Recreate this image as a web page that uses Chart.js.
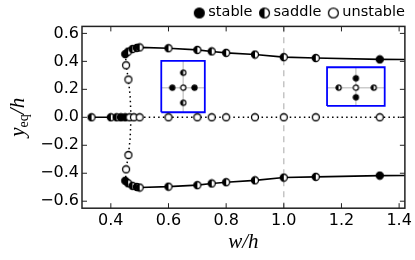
<!DOCTYPE html>
<html>
<head>
<meta charset="utf-8">
<script src="https://cdn.jsdelivr.net/npm/chart.js@4.4.1/dist/chart.umd.min.js"></script>
<style>
  html, body { margin: 0; padding: 0; background: #fff; }
  canvas { display: block; }
</style>
</head>
<body>
<canvas id="eqChart" width="415" height="260"></canvas>
<script>
// ===== 数据 =====
const branchX    = [0.45, 0.46, 0.475, 0.49, 0.50, 0.60, 0.70, 0.75, 0.80, 0.90, 1.00, 1.111, 1.333];
const upperY     = [0.452, 0.470, 0.488, 0.496, 0.500, 0.494, 0.482, 0.471, 0.461, 0.449, 0.430, 0.424, 0.414];
const lowerY     = [-0.454, -0.472, -0.490, -0.498, -0.502, -0.496, -0.485, -0.473, -0.464, -0.451, -0.431, -0.426, -0.417];
const branchKind = ['stable', 'saddle', 'saddle', 'saddle', 'saddle', 'saddle', 'saddle',
                    'saddle', 'saddle', 'saddle', 'saddle', 'saddle', 'stable'];
// branches run on past the last sample to the frame
const tailX      = [1.333, 1.45];
const tailUpperY = [0.414, 0.413];
const tailLowerY = [-0.417, -0.416];

const centerX    = [0.333, 0.40, 0.42, 0.435, 0.45, 0.465, 0.48, 0.50, 0.60, 0.70, 0.75, 0.80, 0.90, 1.00, 1.111, 1.333];
const centerY    = [0, 0, 0, 0, 0, 0, 0, 0, 0, 0, 0, 0, 0, 0, 0, 0];
const centerKind = ['saddle', 'saddle', 'saddle', 'stable', 'stable', 'unstable', 'unstable', 'unstable',
                    'unstable', 'unstable', 'unstable', 'unstable', 'unstable', 'unstable', 'unstable', 'unstable'];
const centerSolidX  = [0.333, 0.45];
const centerDottedX = [0.45, 1.45];

const foldX      = [0.451, 0.453, 0.461, 0.467, 0.470, 0.467, 0.461, 0.453, 0.451];
const foldY      = [0.452, 0.372, 0.270, 0.150, 0, -0.150, -0.270, -0.372, -0.454];
const foldMarkX  = [0.453, 0.461, 0.461, 0.453];
const foldMarkY  = [0.372, 0.270, -0.270, -0.372];

// insets: centre, left, right, top, bottom
const insetAX    = [0.651, 0.613, 0.690, 0.651, 0.651];
const insetAY    = [0.212, 0.212, 0.212, 0.319, 0.104];
const insetAKind = ['unstable', 'stable', 'stable', 'saddle', 'saddle'];
const insetABox  = [0.575, 0.726, 0.036, 0.403];   // x0, x1, y0, y1

const insetBX    = [1.250, 1.190, 1.312, 1.250, 1.250];
const insetBY    = [0.212, 0.212, 0.212, 0.279, 0.143];
const insetBKind = ['unstable', 'saddle', 'saddle', 'stable', 'stable'];
const insetBBox  = [1.150, 1.350, 0.081, 0.358];

const refLineX   = [1.0, 1.0];
const refLineY   = [-0.65, 0.65];

const xTicks      = [0.4, 0.6, 0.8, 1.0, 1.2, 1.4];
const xTickLabels = ['0.4', '0.6', '0.8', '1.0', '1.2', '1.4'];
const yTicks      = [-0.6, -0.4, -0.2, 0, 0.2, 0.4, 0.6];
const yTickLabels = ['\u22120.6', '\u22120.4', '\u22120.2', '0.0', '0.2', '0.4', '0.6'];
const legendKinds = ['stable', 'saddle', 'unstable'];

(function() {
  'use strict';

  // ===== 标记图片 =====
  function makeMarker(kind, r, lw) {
    const size = Math.ceil(r * 2 + 3);
    const cv = document.createElement('canvas');
    cv.width = size;
    cv.height = size;
    const g = cv.getContext('2d');
    const c = size / 2;
    g.beginPath();
    g.arc(c, c, r, 0, Math.PI * 2);
    g.fillStyle = kind === 'stable' ? '#000' : '#fff';
    g.fill();
    if (kind === 'saddle') {
      g.beginPath();
      g.moveTo(c, c);
      g.arc(c, c, r, -Math.PI / 2, Math.PI / 2, true);
      g.closePath();
      g.fillStyle = '#000';
      g.fill();
    }
    g.beginPath();
    g.arc(c, c, r, 0, Math.PI * 2);
    g.lineWidth = lw;
    g.strokeStyle = '#000';
    g.stroke();
    return cv;
  }

  function markerSet(r, lw) {
    return {
      stable: makeMarker('stable', r, lw),
      saddle: makeMarker('saddle', r, lw),
      unstable: makeMarker('unstable', r, lw)
    };
  }

  const plotMarks = markerSet(3.5, 1.3);
  const insetMarks = markerSet(2.6, 1.2);
  const legendMarks = markerSet(4.9, 1.3);

  function pts(xs, ys) {
    return xs.map((x, i) => ({ x: x, y: ys[i] }));
  }

  function box(b) {
    return [
      { x: b[0], y: b[2] }, { x: b[1], y: b[2] }, { x: b[1], y: b[3] },
      { x: b[0], y: b[3] }, { x: b[0], y: b[2] }
    ];
  }

  function markers(data, kinds, set) {
    return {
      data: data,
      showLine: false,
      pointStyle: kinds.map(k => set[k]),
      pointRadius: 4
    };
  }

  function line(data, color, width, dash) {
    return {
      data: data,
      showLine: true,
      borderColor: color,
      borderWidth: width,
      borderDash: dash || [],
      borderJoinStyle: 'miter',
      pointRadius: 0,
      tension: 0
    };
  }

  const solid = '#000';
  const dotted = [1.5, 3.2];

  // 数据集顺序：前面的画在上层
  const datasets = [
    markers(pts(branchX, upperY), branchKind, plotMarks),
    markers(pts(branchX, lowerY), branchKind, plotMarks),
    markers(pts(centerX, centerY), centerKind, plotMarks),
    markers(pts(foldMarkX, foldMarkY), foldMarkX.map(() => 'unstable'), plotMarks),
    markers(pts(insetAX, insetAY), insetAKind, insetMarks),
    markers(pts(insetBX, insetBY), insetBKind, insetMarks),
    line(pts(branchX, upperY), solid, 1.6),
    line(pts(tailX, tailUpperY), solid, 1.6),
    line(pts(branchX, lowerY), solid, 1.6),
    line(pts(tailX, tailLowerY), solid, 1.6),
    line(pts(centerSolidX, [0, 0]), solid, 1.6),
    line(pts(centerDottedX, [0, 0]), solid, 1.5, dotted),
    line(pts(foldX, foldY), solid, 1.5, dotted),
    line(box(insetABox), '#0000ff', 1.8),
    line(box(insetBBox), '#0000ff', 1.8),
    line(pts([insetABox[0], insetABox[1]], [insetAY[0], insetAY[0]]), '#cccccc', 1.5),
    line(pts([insetAX[0], insetAX[0]], [insetABox[2], insetABox[3]]), '#cccccc', 1.5),
    line(pts([insetBBox[0], insetBBox[1]], [insetBY[0], insetBY[0]]), '#cccccc', 1.5),
    line(pts([insetBX[0], insetBX[0]], [insetBBox[2], insetBBox[3]]), '#cccccc', 1.5),
    line(pts(refLineX, refLineY), '#bbbbbb', 1.3, [6, 5])
  ];

  // ===== 插件：边框 + 向内刻度 =====
  const framePlugin = {
    id: 'frame',
    afterDatasetsDraw(chart) {
      const { ctx, chartArea: a, scales } = chart;
      const tl = 5;
      ctx.save();
      ctx.strokeStyle = '#222';
      ctx.lineWidth = 1;
      ctx.beginPath();
      scales.x.ticks.forEach(t => {
        const px = scales.x.getPixelForValue(t.value);
        ctx.moveTo(px, a.bottom); ctx.lineTo(px, a.bottom - tl);
        ctx.moveTo(px, a.top); ctx.lineTo(px, a.top + tl);
      });
      scales.y.ticks.forEach(t => {
        const py = scales.y.getPixelForValue(t.value);
        ctx.moveTo(a.left, py); ctx.lineTo(a.left + tl, py);
        ctx.moveTo(a.right, py); ctx.lineTo(a.right - tl, py);
      });
      ctx.stroke();
      ctx.lineWidth = 1.5;
      ctx.strokeRect(a.left, a.top, a.right - a.left, a.bottom - a.top);
      ctx.restore();
    }
  };

  // ===== 插件：y 轴标题（带下标） =====
  const yTitlePlugin = {
    id: 'yTitle',
    afterDraw(chart) {
      const { ctx, chartArea: a } = chart;
      const big = 'italic 21px "Liberation Serif"';
      const small = '14px "Liberation Serif"';
      ctx.save();
      ctx.fillStyle = '#000';
      ctx.textBaseline = 'alphabetic';
      ctx.font = big;
      const wy = ctx.measureText('y').width;
      const wh = ctx.measureText('/h').width;
      ctx.font = small;
      const we = ctx.measureText('eq').width;
      ctx.translate(24, (a.top + a.bottom) / 2);
      ctx.rotate(-Math.PI / 2);
      let x = -(wy + we + wh) / 2;
      ctx.font = big;
      ctx.fillText('y', x, 0);
      x += wy;
      ctx.font = small;
      ctx.fillText('eq', x, 4);
      x += we;
      ctx.font = big;
      ctx.fillText('/h', x, 0);
      ctx.restore();
    }
  };

  // ===== 插件：图例（右上角一行） =====
  const legendPlugin = {
    id: 'kindLegend',
    afterDraw(chart) {
      const ctx = chart.ctx;
      ctx.save();
      ctx.font = '14.5px "DejaVu Sans"';
      ctx.fillStyle = '#000';
      ctx.textBaseline = 'alphabetic';
      let end = 405;
      for (let i = legendKinds.length - 1; i >= 0; i--) {
        const label = legendKinds[i];
        const start = end - ctx.measureText(label).width;
        ctx.fillText(label, start, 15.5);
        const img = legendMarks[label];
        const cx = start - 9;
        ctx.drawImage(img, cx - img.width / 2, 13 - img.height / 2);
        end = cx - 12;
      }
      ctx.restore();
    }
  };

  const tickFont = { family: 'DejaVu Sans', size: 16 };

  new Chart(document.getElementById('eqChart'), {
    type: 'scatter',
    data: { datasets: datasets },
    options: {
      responsive: false,
      devicePixelRatio: 1,
      animation: false,
      events: [],
      layout: { padding: { left: 0, right: 9, top: 26.4, bottom: 0 } },
      plugins: { legend: { display: false }, tooltip: { enabled: false } },
      scales: {
        x: {
          type: 'linear',
          min: 0.3,
          max: 1.42,
          afterBuildTicks: s => { s.ticks = xTicks.map(v => ({ value: v })); },
          afterFit: s => { s.height = 51.8; },
          grid: { display: false, drawTicks: false },
          border: { display: false },
          ticks: {
            callback: (v, i) => xTickLabels[i],
            font: tickFont,
            color: '#000',
            padding: 3,
            maxRotation: 0,
            autoSkip: false
          },
          title: {
            display: true,
            text: 'w/h',
            color: '#000',
            font: { family: 'Liberation Serif', style: 'italic', size: 21 },
            padding: { top: 0, bottom: 5 }
          }
        },
        y: {
          type: 'linear',
          min: -0.65,
          max: 0.65,
          afterBuildTicks: s => { s.ticks = yTicks.map(v => ({ value: v })); },
          afterFit: s => { s.width = 82; },
          grid: { display: false, drawTicks: false },
          border: { display: false },
          ticks: {
            callback: (v, i) => yTickLabels[i],
            font: tickFont,
            color: '#000',
            padding: 3,
            autoSkip: false
          }
        }
      }
    },
    plugins: [framePlugin, yTitlePlugin, legendPlugin]
  });
})();
</script>
</body>
</html>
